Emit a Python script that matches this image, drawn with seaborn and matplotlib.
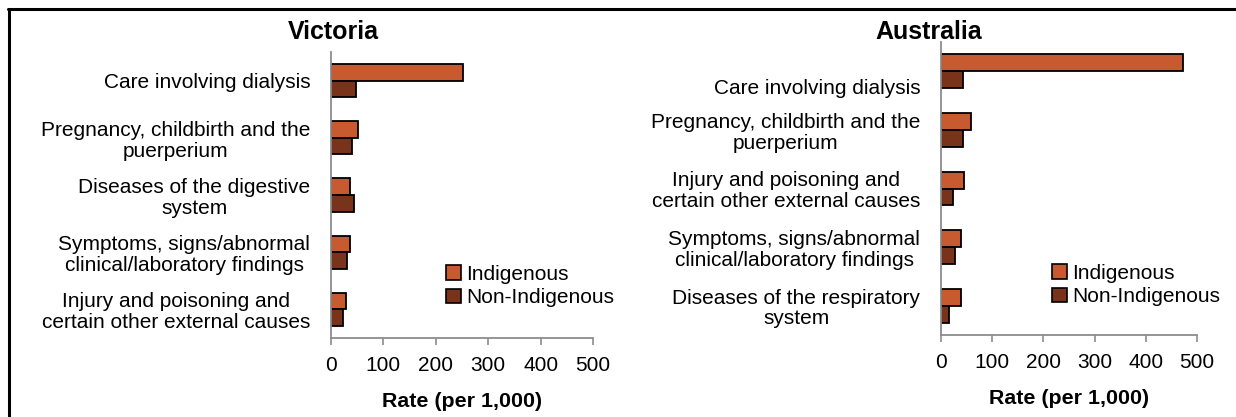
import numpy as np
import pandas as pd
import matplotlib
matplotlib.use('Agg')
from matplotlib import pyplot as plt
from matplotlib.lines import Line2D
import matplotlib.transforms as mtransforms
import seaborn as sns

# Victoria data (rate per 1,000)
vic_categories = ['Care involving dialysis',
                  'Pregnancy, childbirth and the\npuerperium',
                  'Diseases of the digestive\nsystem',
                  'Symptoms, signs/abnormal\nclinical/laboratory findings',
                  'Injury and poisoning and\ncertain other external causes']
vic_indigenous = [251, 51, 37, 36, 28]
vic_non_indigenous = [48, 41, 44, 30, 22]

# Australia data (rate per 1,000)
aus_categories = ['Care involving dialysis',
                  'Pregnancy, childbirth and the\npuerperium',
                  'Injury and poisoning and\ncertain other external causes',
                  'Symptoms, signs/abnormal\nclinical/laboratory findings',
                  'Diseases of the respiratory\nsystem']
aus_indigenous = [472, 58, 45, 40, 39]
aus_non_indigenous = [42, 42, 24, 28, 16]

groups = ['Indigenous', 'Non-Indigenous']
colors = ['#C85A30', '#7A331B']
x_ticks = [0, 100, 200, 300, 400, 500]

sns.set_theme(style='white')
plt.rcParams['font.family'] = ['Liberation Sans', 'DejaVu Sans']
plt.rcParams['text.color'] = 'black'
plt.rcParams['xtick.color'] = 'black'
plt.rcParams['ytick.color'] = 'black'
plt.rcParams['axes.labelcolor'] = 'black'

W, H = 1236, 417
fig = plt.figure(figsize=(W / 100, H / 100), dpi=100)


def to_long(categories, ind, non):
    return pd.DataFrame({
        'category': categories * 2,
        'group': [groups[0]] * len(categories) + [groups[1]] * len(categories),
        'rate': list(ind) + list(non),
    })


def px_axes(left, right, top, bottom):
    # pixel box -> figure fraction
    return fig.add_axes([left / W, 1 - bottom / H, (right - left) / W, (bottom - top) / H])


def draw_panel(ax, categories, ind, non, title, title_x, legend_xy):
    df = to_long(categories, ind, non)
    sns.barplot(data=df, y='category', x='rate', hue='group', order=categories,
                hue_order=groups, palette=colors, orient='h', width=0.58,
                edgecolor='black', linewidth=1.3, saturation=1, ax=ax)
    ax.set_xlim(0, 500)
    ax.set_xticks(x_ticks)
    ax.set_ylabel('')
    ax.set_xlabel('Rate (per 1,000)', fontsize=15.4, fontweight='bold', labelpad=12)
    for side in ['top', 'right']:
        ax.spines[side].set_visible(False)
    for side in ['left', 'bottom']:
        ax.spines[side].set_color('#8C8C8C')
        ax.spines[side].set_linewidth(1.3)
    ax.tick_params(axis='x', which='major', bottom=True, direction='out', length=5,
                   width=1.2, color='#8C8C8C', labelcolor='black', labelsize=15, pad=8)
    ax.tick_params(axis='y', length=0, labelsize=15, labelcolor='black', pad=15)
    for lab in ax.get_yticklabels():
        lab.set_multialignment('center')
        lab.set_linespacing(1.12)
    fig.text(title_x / W, 1 - 32 / H, title, fontsize=18, fontweight='bold',
             ha='center', va='center')
    handles = [plt.Rectangle((0, 0), 1, 1, facecolor=c, edgecolor='black', linewidth=1.2)
               for c in colors]
    ax.legend(handles, groups, loc='upper left', frameon=False, fontsize=15,
              bbox_to_anchor=(legend_xy[0] / W, 1 - legend_xy[1] / H),
              bbox_transform=fig.transFigure, handlelength=0.7, handleheight=0.7,
              handletextpad=0.25, labelspacing=0.2, borderpad=0, borderaxespad=0)


ax1 = px_axes(331, 593, 52, 338)
draw_panel(ax1, vic_categories, vic_indigenous, vic_non_indigenous, 'Victoria', 333, (446, 265))

ax2 = px_axes(941, 1197, 42, 335)
draw_panel(ax2, aus_categories, aus_indigenous, aus_non_indigenous, 'Australia', 929, (1052, 264))

# Australia: dialysis label sits lower than its bars
offset = mtransforms.ScaledTranslation(0, -15 / 100, fig.dpi_scale_trans)
first = ax2.get_yticklabels()[0]
first.set_transform(first.get_transform() + offset)

# outer frame (top and left only)
fig.add_artist(Line2D([8 / W, 1], [1 - 9 / H, 1 - 9 / H], color='black', linewidth=2.2,
                      transform=fig.transFigure))
fig.add_artist(Line2D([8.5 / W, 8.5 / W], [0, 1 - 9 / H], color='black', linewidth=2.2,
                      transform=fig.transFigure))

fig.savefig('out.png', dpi=100)
